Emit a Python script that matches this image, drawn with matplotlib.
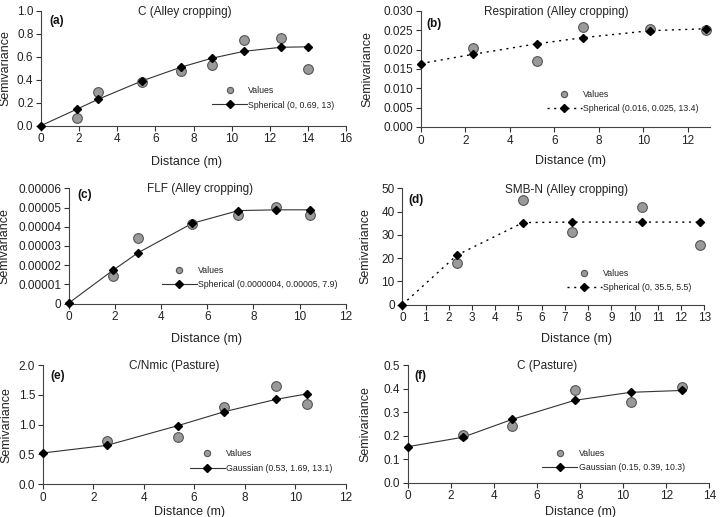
import numpy as np
import matplotlib
matplotlib.use("Agg")
import matplotlib.pyplot as plt
from matplotlib.lines import Line2D
from matplotlib.ticker import FixedLocator, FixedFormatter

plt.rcParams['font.family'] = ['Liberation Sans', 'DejaVu Sans']

# (a) C (Alley cropping)
a_dist = [0, 1.9, 3.0, 5.3, 7.35, 8.95, 10.65, 12.6, 14.0]
a_values = [0.066, 0.295, 0.38, 0.474, 0.532, 0.744, 0.765, 0.494]
a_model = [0, 0.145, 0.23, 0.39, 0.51, 0.587, 0.648, 0.683, 0.687]

# (b) Respiration (Alley cropping)
b_dist = [0, 2.35, 5.2, 7.3, 10.3, 12.8]
b_values = [0.0205, 0.0171, 0.0259, 0.0254, 0.0250]
b_model = [0.0164, 0.0188, 0.0215, 0.0231, 0.0249, 0.0254]

# (c) FLF (Alley cropping)
c_dist = [0, 1.9, 3.0, 5.35, 7.35, 9.0, 10.45]
c_values = [1.44e-5, 3.40e-5, 4.12e-5, 4.63e-5, 5.04e-5, 4.61e-5]
c_model = [4e-7, 1.73e-5, 2.65e-5, 4.18e-5, 4.84e-5, 4.88e-5, 4.88e-5]

# (d) SMB-N (Alley cropping)
d_dist = [0, 2.35, 5.2, 7.3, 10.3, 12.8]
d_values = [18.0, 45.0, 31.1, 42.0, 25.5]
d_model = [0, 21.3, 35.3, 35.5, 35.5, 35.5]

# (e) C/Nmic (Pasture)
e_dist = [0, 2.55, 5.35, 7.2, 9.25, 10.45]
e_values = [0.73, 0.79, 1.30, 1.64, 1.35]
e_model = [0.525, 0.654, 0.983, 1.218, 1.425, 1.514]

# (f) C (Pasture)
f_dist = [0, 2.55, 4.85, 7.75, 10.35, 12.75]
f_values = [0.204, 0.241, 0.392, 0.343, 0.408]
f_model = [0.153, 0.193, 0.269, 0.350, 0.384, 0.392]

panels = [
    dict(tag='(a)', title='C (Alley cropping)', dist=a_dist, vals=a_values, model=a_model,
         label='Spherical (0, 0.69, 13)', ls='-',
         pos=[0.057, 0.757, 0.4236, 0.2219], xlim=(0, 16), xticks=np.arange(0, 17, 2),
         yticks=[0, 0.2, 0.4, 0.6, 0.8, 1.0], ylabels=['0.0', '0.2', '0.4', '0.6', '0.8', '1.0'],
         tx=0.472, tagxy=(0.026, 0.915), leg=(0.561, 0.2415), ylab_x=-0.098, xlab=(0.478, -0.264)),
    dict(tag='(b)', title='Respiration (Alley cropping)', dist=b_dist, vals=b_values, model=b_model,
         label='Spherical (0.016, 0.025, 13.4)', ls=':',
         pos=[0.5847, 0.7544, 0.4014, 0.2244], xlim=(0, 13), xticks=np.arange(0, 13, 2),
         yticks=[0, 0.005, 0.01, 0.015, 0.02, 0.025, 0.03],
         ylabels=['0.000', '0.005', '0.010', '0.015', '0.020', '0.025', '0.030'],
         tx=0.467, tagxy=(0.02, 0.888), leg=(0.436, 0.22), ylab_x=-0.165, xlab=(0.516, -0.241)),
    dict(tag='(c)', title='FLF (Alley cropping)', dist=c_dist, vals=c_values, model=c_model,
         label='Spherical (0.0000004, 0.00005, 7.9)', ls='-',
         pos=[0.0958, 0.4126, 0.3843, 0.2232], xlim=(0, 12), xticks=np.arange(0, 13, 2),
         yticks=[0, 1e-5, 2e-5, 3e-5, 4e-5, 5e-5, 6e-5],
         ylabels=['0', '0.00001', '0.00002', '0.00003', '0.00004', '0.00005', '0.00006'],
         tx=0.473, tagxy=(0.031, 0.942), leg=(0.335, 0.225), ylab_x=-0.21, xlab=(0.498, -0.257)),
    dict(tag='(d)', title='SMB-N (Alley cropping)', dist=d_dist, vals=d_values, model=d_model,
         label='Spherical (0, 35.5, 5.5)', ls=':',
         pos=[0.5588, 0.4106, 0.4194, 0.2251], xlim=(0, 13), xticks=np.arange(0, 14, 1),
         yticks=[0, 10, 20, 30, 40, 50], ylabels=['0', '10', '20', '30', '40', '50'],
         tx=0.544, tagxy=(0.02, 0.9), leg=(0.544, 0.21), ylab_x=-0.101, xlab=(0.577, -0.246)),
    dict(tag='(e)', title='C/Nmic (Pasture)', dist=e_dist, vals=e_values, model=e_model,
         label='Gaussian (0.53, 1.69, 13.1)', ls='-',
         pos=[0.0593, 0.0632, 0.4208, 0.2308], xlim=(0, 12), xticks=np.arange(0, 13, 2),
         yticks=[0, 0.5, 1.0, 1.5, 2.0], ylabels=['0.0', '0.5', '1.0', '1.5', '2.0'],
         tx=0.433, tagxy=(0.024, 0.91), leg=(0.486, 0.195), ylab_x=-0.1, xlab=(0.486, -0.18)),
    dict(tag='(f)', title='C (Pasture)', dist=f_dist, vals=f_values, model=f_model,
         label='Gaussian (0.15, 0.39, 10.3)', ls='-',
         pos=[0.5663, 0.0663, 0.4189, 0.2277], xlim=(0, 14), xticks=np.arange(0, 15, 2),
         yticks=[0, 0.1, 0.2, 0.3, 0.4, 0.5], ylabels=['0.0', '0.1', '0.2', '0.3', '0.4', '0.5'],
         tx=0.462, tagxy=(0.021, 0.906), leg=(0.446, 0.186), ylab_x=-0.119, xlab=(0.574, -0.195)),
]

fig = plt.figure(figsize=(7.2, 5.17), dpi=100)

for p in panels:
    ax = fig.add_axes(p['pos'])
    if p['ls'] == ':':
        line_kw = dict(linestyle=(0, (1.5, 3.3)), color='black', lw=1.0)
    else:
        line_kw = dict(linestyle='-', color='#333333', lw=0.8)

    ax.plot(p['dist'][1:], p['vals'], 'o', ms=7, mfc='#9a9a9a', mec='#555555', mew=0.8,
            clip_on=False, zorder=3)
    ax.plot(p['dist'], p['model'], **line_kw, zorder=2, clip_on=False)
    ax.plot(p['dist'], p['model'], 'D', ms=3.6, color='black', clip_on=False, zorder=4)

    ax.set_xlim(*p['xlim'])
    ax.set_ylim(p['yticks'][0], p['yticks'][-1])
    ax.xaxis.set_major_locator(FixedLocator(p['xticks']))
    ax.yaxis.set_major_locator(FixedLocator(p['yticks']))
    ax.yaxis.set_major_formatter(FixedFormatter(p['ylabels']))
    ax.tick_params(direction='out', length=3.5, width=0.8, colors='#333333',
                   labelcolor='#222222', labelsize=8.5, pad=2)
    for s in ['top', 'right']:
        ax.spines[s].set_visible(False)
    for s in ['left', 'bottom']:
        ax.spines[s].set_color('#444444')
        ax.spines[s].set_linewidth(0.8)

    ax.text(p['tx'], 0.99, p['title'], transform=ax.transAxes, ha='center', va='center',
            fontsize=8.5, color='#222222')
    ax.text(p['tagxy'][0], p['tagxy'][1], p['tag'], transform=ax.transAxes, ha='left',
            va='center', fontsize=8.5, fontweight='bold', color='#111111')

    ax.set_ylabel('Semivariance', fontsize=9, color='#222222')
    ax.yaxis.set_label_coords(p['ylab_x'], 0.5)
    ax.set_xlabel('Distance (m)', fontsize=9, color='#222222')
    ax.xaxis.set_label_coords(p['xlab'][0], p['xlab'][1])

    handles = [
        Line2D([], [], marker='o', ls='none', ms=4.5, mfc='#9a9a9a', mec='#555555', mew=0.8),
        Line2D([], [], marker='D', ms=3.6, color='black' if p['ls'] == ':' else '#333333',
               mfc='black', mec='black', **{k: v for k, v in line_kw.items() if k != 'color'}),
    ]
    ax.legend(handles, ['Values', p['label']], loc='center left',
              bbox_to_anchor=(p['leg'][0], p['leg'][1]), frameon=False, fontsize=6.3,
              handlelength=4.0, handletextpad=0.15, borderpad=0, borderaxespad=0,
              labelspacing=0.6, labelcolor='#222222')

fig.savefig('out.png', dpi=100)
